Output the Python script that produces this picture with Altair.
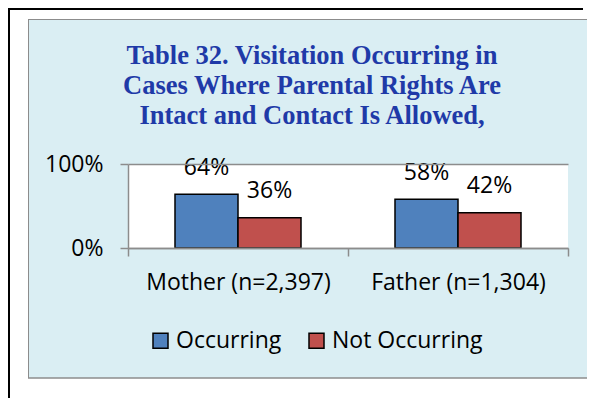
import altair as alt
import pandas as pd

# ---- data ----
categories = ["Mother (n=2,397)", "Father (n=1,304)"]
series = ["Occurring", "Not Occurring"]
occurring = [0.64, 0.58]
not_occurring = [0.36, 0.42]
colors = ["#4F81BD", "#C0504D"]
y_ticks = [0, 1]
title_lines = [
    "Table 32. Visitation Occurring in",
    "Cases Where Parental Rights Are",
    "Intact and Contact Is Allowed,",
]

rows = []
for i, c in enumerate(categories):
    rows.append({"group": c, "series": series[0], "value": occurring[i]})
    rows.append({"group": c, "series": series[1], "value": not_occurring[i]})
df = pd.DataFrame(rows)
one = pd.DataFrame({"k": [0]})

W, H = 440, 84
FONT = "Open Sans"
FS = 23
GRAY = "#8C8C8C"

# ---- decorations ----
blue_box = alt.Chart(one).mark_rect(fill="#DAEEF3").encode(
    x=alt.value(-100), x2=alt.value(459), y=alt.value(-145), y2=alt.value(214)
)
box_left = alt.Chart(one).mark_rule(color=GRAY, strokeWidth=1).encode(
    x=alt.value(-99.5), y=alt.value(-145), y2=alt.value(214)
)
box_top = alt.Chart(one).mark_rule(color=GRAY, strokeWidth=1).encode(
    x=alt.value(-100), x2=alt.value(459), y=alt.value(-144.5)
)
box_bottom = alt.Chart(one).mark_rule(color=GRAY, strokeWidth=1.5).encode(
    x=alt.value(-100), x2=alt.value(459), y=alt.value(214)
)
white_plot = alt.Chart(one).mark_rect(fill="white").encode(
    x=alt.value(0), x2=alt.value(W), y=alt.value(0), y2=alt.value(H)
)
border_left = alt.Chart(one).mark_rule(color="black", strokeWidth=2).encode(
    x=alt.value(-119), y=alt.value(-156), y2=alt.value(234)
)
border_top = alt.Chart(one).mark_rule(color="black", strokeWidth=2).encode(
    x=alt.value(-120), x2=alt.value(455), y=alt.value(-155)
)
title = alt.Chart(one).mark_text(
    font="Liberation Serif", fontSize=26.5, fontWeight="bold", color="#1F3AA8",
    align="center", baseline="alphabetic", lineHeight=30,
).encode(x=alt.value(184), y=alt.value(-100), text=alt.value(title_lines))

# ---- bars ----
x_enc = alt.X(
    "group:N", sort=categories, title=None,
    scale=alt.Scale(paddingInner=0, paddingOuter=0),
    axis=alt.Axis(
        labelFont=FONT, labelFontSize=FS, labelColor="black", labelAngle=0,
        labelLimit=400,
        domainColor=GRAY, domainWidth=1.5, tickColor=GRAY, tickWidth=1.5,
        tickSize=8, tickBand="extent", labelPadding=15, zindex=1,
    ),
)
xo_enc = alt.XOffset(
    "series:N", sort=series,
    scale=alt.Scale(paddingInner=0, paddingOuter=0.746),
)
y_enc = alt.Y(
    "value:Q", title=None,
    scale=alt.Scale(domain=[0, 1]),
    axis=alt.Axis(
        values=y_ticks, format=".0%", labelFont=FONT, labelFontSize=FS,
        labelColor="black", domainColor=GRAY, domainWidth=1.5, tickColor=GRAY,
        tickWidth=1.5, tickSize=8, labelPadding=17, grid=True, gridColor=GRAY,
        gridWidth=1.5, zindex=1,
    ),
)

bars = alt.Chart(df).mark_bar(stroke="black", strokeWidth=1.5).encode(
    x=x_enc,
    xOffset=xo_enc,
    y=y_enc,
    color=alt.Color(
        "series:N", sort=series,
        scale=alt.Scale(domain=series, range=colors),
        legend=alt.Legend(
            title=None, orient="none", legendX=21, legendY=165,
            direction="horizontal", symbolType="square", symbolSize=225,
            symbolStrokeColor="black", symbolStrokeWidth=1.5,
            labelFont=FONT, labelFontSize=FS, labelColor="black",
            labelOffset=4, columnPadding=23, padding=0,
        ),
    ),
)

labels = alt.Chart(df).mark_text(
    font=FONT, fontSize=FS, color="black", baseline="alphabetic", dy=-19.5
).encode(
    x=alt.X("group:N", sort=categories),
    xOffset=alt.XOffset("series:N", sort=series),
    y=alt.Y("value:Q"),
    text=alt.Text("value:Q", format=".0%"),
)

chart = alt.layer(
    blue_box, box_left, box_top, box_bottom, white_plot, border_left,
    border_top, title, bars, labels
).properties(
    width=W, height=H,
    padding={"left": 120, "top": 156, "right": 19, "bottom": 150},
    autosize=alt.AutoSizeParams(type="none"),
    background="white",
).configure_view(strokeWidth=0)

chart.save("out.html", embed_options={"renderer": "svg", "actions": False})
